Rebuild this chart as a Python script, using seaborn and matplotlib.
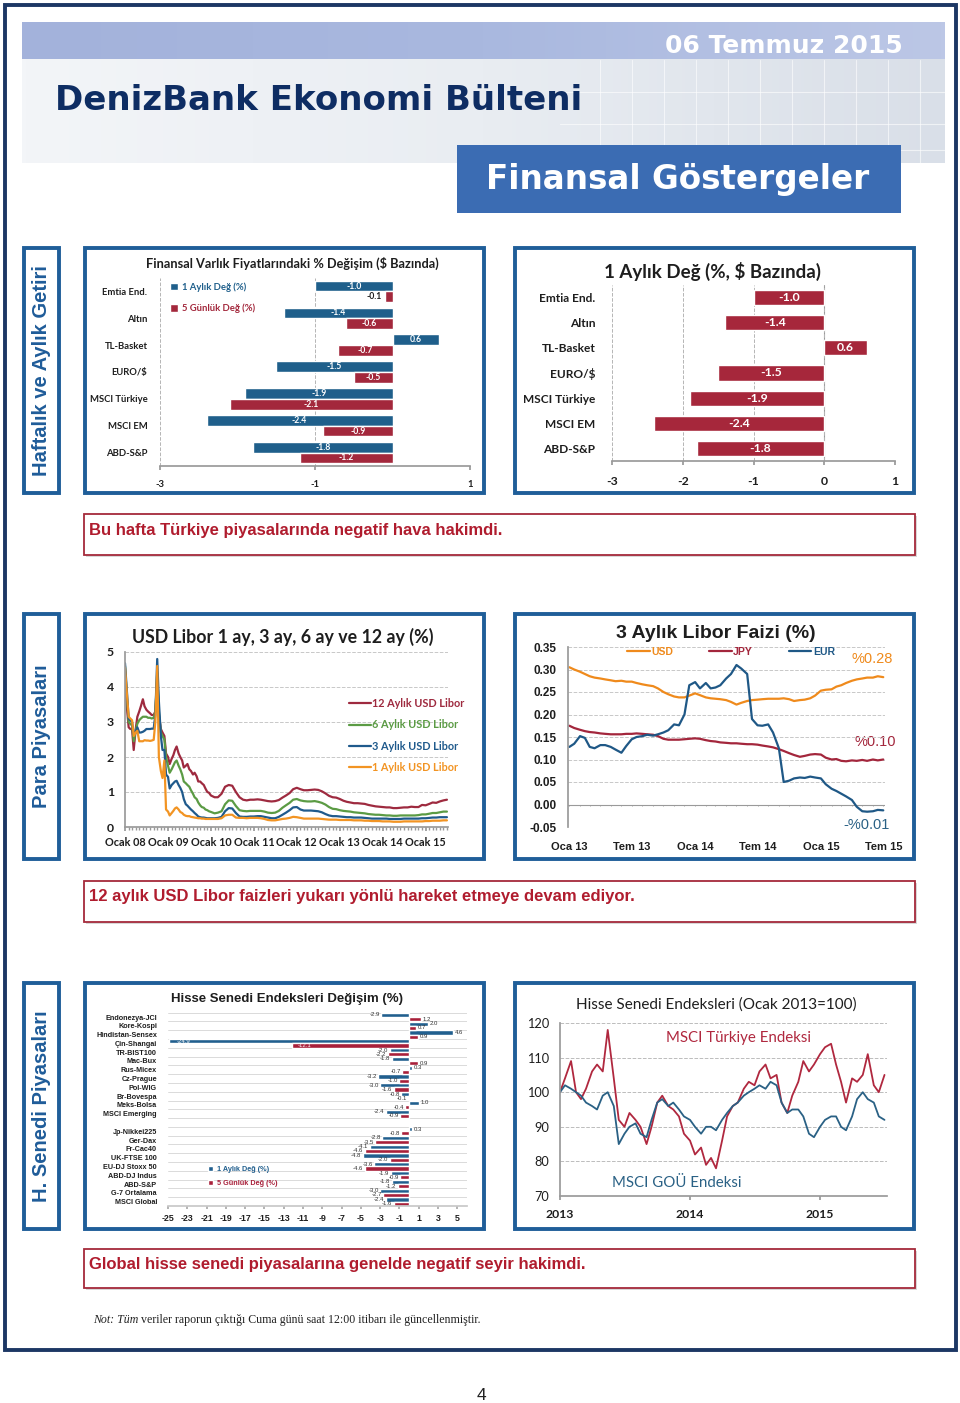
import numpy as np
import pandas as pd
import matplotlib
matplotlib.use("Agg")
import matplotlib.pyplot as plt
import matplotlib.dates as mdates
from matplotlib.patches import Rectangle
from matplotlib.colors import LinearSegmentedColormap
import seaborn as sns

# ======================= DATA =======================
# Section 1: weekly / monthly returns ($ based)
asset_cats = ["Emtia End.", "Altın", "TL-Basket", "EURO/$", "MSCI Türkiye", "MSCI EM", "ABD-S&P"]
asset_1m = [-1.0, -1.4, 0.6, -1.5, -1.9, -2.4, -1.8]
asset_5d = [-0.1, -0.6, -0.7, -0.5, -2.1, -0.9, -1.2]
asset_xticks1 = [-3, -1, 1]
asset_xticks2 = [-3, -2, -1, 0, 1]

# Section 2a: USD Libor (semi-monthly 2008-2009, monthly 2010-2015)
libor_names = ["12 Aylık USD Libor", "6 Aylık USD Libor", "3 Aylık USD Libor", "1 Aylık USD Libor"]
libor_1m = [4.55, 3.90, 3.15, 3.10, 3.05, 2.60, 2.70, 2.75, 2.45, 2.45, 2.45, 2.48, 2.47, 2.47, 2.46, 2.47,
            2.49, 3.00, 4.60, 2.00, 1.60, 1.40, 1.90, 0.50, 0.44, 0.33, 0.40, 0.46, 0.53, 0.56, 0.50, 0.43,
            0.40, 0.35, 0.32, 0.31, 0.31, 0.29, 0.28, 0.27, 0.26, 0.25, 0.25, 0.24, 0.24, 0.23, 0.23, 0.23,
            0.23, 0.23, 0.23, 0.25, 0.33, 0.35, 0.35, 0.27, 0.26, 0.26, 0.25, 0.26,
            0.26, 0.26, 0.25, 0.23, 0.20, 0.19, 0.19, 0.21, 0.23, 0.24, 0.26, 0.29,
            0.28, 0.26, 0.24, 0.24, 0.24, 0.24, 0.24, 0.23, 0.22, 0.21, 0.21, 0.21,
            0.20, 0.20, 0.20, 0.20, 0.19, 0.19, 0.19, 0.18, 0.18, 0.17, 0.17, 0.17,
            0.16, 0.16, 0.16, 0.15, 0.15, 0.15, 0.16, 0.16, 0.16, 0.16, 0.16, 0.16,
            0.17, 0.17, 0.18, 0.18, 0.18, 0.19, 0.19]
libor_3m = [4.68, 4.00, 3.10, 3.05, 3.00, 2.65, 2.70, 2.85, 2.70, 2.70, 2.72, 2.75, 2.80, 2.80, 2.80, 2.81,
            2.81, 3.20, 4.80, 3.60, 2.60, 2.20, 2.20, 1.50, 1.43, 1.10, 1.20, 1.25, 1.30, 1.32, 1.20, 1.12,
            1.00, 0.80, 0.65, 0.61, 0.55, 0.50, 0.45, 0.40, 0.35, 0.30, 0.28, 0.27, 0.27, 0.26, 0.25, 0.25,
            0.25, 0.25, 0.26, 0.29, 0.45, 0.54, 0.53, 0.40, 0.30, 0.29, 0.29, 0.30,
            0.30, 0.31, 0.31, 0.29, 0.27, 0.25, 0.25, 0.29, 0.35, 0.41, 0.48, 0.56,
            0.57, 0.50, 0.47, 0.47, 0.47, 0.46, 0.45, 0.42, 0.37, 0.33, 0.31, 0.31,
            0.30, 0.29, 0.28, 0.28, 0.27, 0.27, 0.27, 0.26, 0.25, 0.24, 0.24, 0.24,
            0.24, 0.24, 0.23, 0.23, 0.23, 0.23, 0.24, 0.24, 0.24, 0.24, 0.24, 0.25,
            0.25, 0.26, 0.27, 0.27, 0.28, 0.28, 0.28]
libor_6m = [4.60, 3.80, 3.00, 2.95, 2.90, 2.45, 2.75, 2.95, 3.05, 3.10, 3.15, 3.15, 3.15, 3.12, 3.12, 3.10,
            3.12, 3.30, 4.40, 3.30, 2.70, 2.60, 2.50, 2.00, 1.75, 1.55, 1.65, 1.75, 1.85, 1.90, 1.75, 1.65,
            1.50, 1.30, 1.25, 1.20, 1.15, 1.05, 0.95, 0.85, 0.80, 0.70, 0.62, 0.57, 0.55, 0.50, 0.48, 0.45,
            0.43, 0.39, 0.41, 0.45, 0.65, 0.76, 0.75, 0.60, 0.48, 0.46, 0.45, 0.46,
            0.46, 0.46, 0.46, 0.44, 0.41, 0.40, 0.41, 0.46, 0.55, 0.62, 0.69, 0.78,
            0.80, 0.76, 0.74, 0.73, 0.73, 0.74, 0.72, 0.69, 0.64, 0.57, 0.52, 0.51,
            0.48, 0.46, 0.45, 0.44, 0.42, 0.41, 0.40, 0.39, 0.37, 0.36, 0.35, 0.35,
            0.34, 0.33, 0.33, 0.32, 0.32, 0.33, 0.33, 0.33, 0.33, 0.33, 0.34, 0.36,
            0.36, 0.38, 0.40, 0.40, 0.42, 0.44, 0.44]
libor_12m = [4.20, 3.50, 2.85, 2.80, 2.80, 2.20, 2.80, 3.15, 3.30, 3.45, 3.65, 3.45, 3.35, 3.30, 3.25, 3.20,
             3.20, 3.30, 4.20, 3.20, 2.80, 2.70, 2.60, 2.10, 2.00, 1.80, 1.95, 2.05, 2.20, 2.30, 2.10, 2.00,
             1.90, 1.70, 1.75, 1.80, 1.65, 1.60, 1.50, 1.55, 1.45, 1.30, 1.30, 1.25, 1.20, 1.10, 1.00, 0.98,
             0.90, 0.85, 0.85, 0.95, 1.15, 1.20, 1.18, 1.00, 0.85, 0.78, 0.76, 0.78,
             0.78, 0.79, 0.78, 0.76, 0.74, 0.73, 0.74, 0.77, 0.84, 0.90, 0.97, 1.08,
             1.12, 1.08, 1.05, 1.05, 1.06, 1.07, 1.06, 1.02, 0.96, 0.89, 0.85, 0.84,
             0.80, 0.75, 0.72, 0.70, 0.68, 0.68, 0.67, 0.66, 0.63, 0.61, 0.59, 0.58,
             0.57, 0.56, 0.56, 0.54, 0.54, 0.55, 0.56, 0.56, 0.58, 0.57, 0.57, 0.63,
             0.62, 0.66, 0.70, 0.69, 0.73, 0.76, 0.78]
libor_xlabels = ["Ocak 08", "Ocak 09", "Ocak 10", "Ocak 11", "Ocak 12", "Ocak 13", "Ocak 14", "Ocak 15"]

# Section 2b: 3-month Libor by currency (semi-monthly Jan 2013 - Jul 2015)
l3_names = ["USD", "JPY", "EUR"]
l3_usd = [0.305, 0.300, 0.295, 0.290, 0.285, 0.282, 0.280, 0.278, 0.276, 0.274,
          0.275, 0.273, 0.273, 0.270, 0.267, 0.265, 0.263, 0.258, 0.250, 0.245,
          0.240, 0.238, 0.238, 0.242, 0.247, 0.243, 0.238, 0.236, 0.235, 0.234,
          0.232, 0.228, 0.222, 0.226, 0.230, 0.232, 0.233, 0.234, 0.235, 0.235,
          0.235, 0.236, 0.234, 0.230, 0.232, 0.233, 0.236, 0.242, 0.253, 0.255,
          0.256, 0.262, 0.265, 0.270, 0.275, 0.278, 0.280, 0.282, 0.282, 0.285, 0.283]
l3_jpy = [0.175, 0.170, 0.166, 0.163, 0.161, 0.160, 0.158, 0.157, 0.156, 0.156,
          0.156, 0.157, 0.157, 0.158, 0.157, 0.156, 0.155, 0.152, 0.146, 0.144,
          0.144, 0.144, 0.145, 0.146, 0.147, 0.146, 0.143, 0.141, 0.140, 0.138,
          0.137, 0.136, 0.136, 0.135, 0.134, 0.134, 0.133, 0.131, 0.129, 0.127,
          0.123, 0.119, 0.114, 0.110, 0.106, 0.108, 0.111, 0.112, 0.111, 0.104,
          0.100, 0.101, 0.097, 0.096, 0.098, 0.097, 0.099, 0.097, 0.100, 0.098, 0.100]
l3_eur = [0.128, 0.135, 0.152, 0.148, 0.128, 0.125, 0.132, 0.132, 0.128, 0.122,
          0.115, 0.130, 0.145, 0.150, 0.152, 0.155, 0.153, 0.156, 0.160, 0.165,
          0.178, 0.176, 0.200, 0.265, 0.272, 0.258, 0.270, 0.258, 0.260, 0.265,
          0.280, 0.290, 0.310, 0.302, 0.290, 0.190, 0.176, 0.175, 0.178, 0.160,
          0.125, 0.050, 0.053, 0.058, 0.060, 0.059, 0.062, 0.060, 0.058, 0.045,
          0.035, 0.030, 0.024, 0.018, 0.010, -0.005, -0.015, -0.016, -0.015, -0.012, -0.013]
l3_xlabels = ["Oca 13", "Tem 13", "Oca 14", "Tem 14", "Oca 15", "Tem 15"]
l3_yticks = [-0.05, 0.0, 0.05, 0.10, 0.15, 0.20, 0.25, 0.30, 0.35]
l3_end_labels = ["%0.28", "%0.10", "-%0.01"]

# Section 3a: equity index changes
eq_cats = ["Endonezya-JCI", "Kore-Kospi", "Hindistan-Sensex", "Çin-Shangai", "TR-BIST100", "Mac-Bux",
           "Rus-Micex", "Cz-Prague", "Pol-WIG", "Br-Bovespa", "Meks-Bolsa", "MSCI Emerging",
           "Jp-Nikkei225", "Ger-Dax", "Fr-Cac40", "UK-FTSE 100", "EU-DJ Stoxx 50", "ABD-DJ Indus",
           "ABD-S&P", "G-7 Ortalama", "MSCI Global"]
eq_1m = [-2.9, 2.0, 4.6, -24.9, -2.0, -1.8, 0.3, -3.2, -3.0, -0.8, 1.0, -2.4,
         0.3, -2.8, -4.1, -4.8, -3.6, -1.9, -1.8, -3.0, -2.4]
eq_5d = [1.2, 0.7, 0.9, -12.1, -2.2, 0.9, -0.7, -1.0, -1.6, -0.1, -0.4, -0.9,
         -0.8, -3.5, -4.6, -2.0, -4.6, -0.9, -1.2, -2.7, -1.6]
eq_xticks = list(range(-25, 6, 2))

# Section 3b: MSCI indices (Jan 2013 = 100), semi-monthly
msci_tr = [100, 104, 109, 100, 98, 101, 106, 108, 106, 118,
           104, 92, 90, 94, 92, 90, 85, 90, 97, 99,
           96, 95, 93, 88, 86, 82, 84, 79, 81, 78,
           86, 93, 96, 97, 101, 103, 102, 106, 108, 104,
           105, 97, 94, 99, 103, 109, 106, 108, 111, 113,
           114, 108, 103, 97, 104, 103, 105, 111, 102, 100, 105]
msci_em = [100, 102, 101, 100, 99, 97, 96, 95, 99, 100,
           96, 85, 88, 90, 91, 88, 87, 92, 97, 98,
           96, 97, 95, 93, 92, 90, 88, 90, 90, 89,
           92, 94, 96, 97, 99, 100, 101, 102, 101, 103,
           102, 97, 94, 95, 95, 93, 88, 87, 90, 92,
           93, 93, 90, 89, 93, 98, 100, 98, 97, 93, 92]
msci_names = ["MSCI Türkiye Endeksi", "MSCI GOÜ Endeksi"]

# ======================= STYLE =======================
sns.set_theme(style="white")
ARIAL = ["Liberation Sans", "DejaVu Sans"]
CAL = ["Lato", "DejaVu Sans"]
SERIF = ["Liberation Serif", "DejaVu Serif"]
plt.rcParams["font.family"] = ARIAL
plt.rcParams["axes.unicode_minus"] = False

BLUE = "#1f5f8b"
RED = "#a3283c"
NAVY_BOX = "#1f5e99"
TXT = "#1e1e1e"

W, H = 960, 1403
fig = plt.figure(figsize=(W / 100, H / 100), dpi=100)
fig.patch.set_facecolor("white")
bg = fig.add_axes([0, 0, 1, 1])
bg.set_xlim(0, W)
bg.set_ylim(H, 0)
bg.axis("off")


def box(x0, y0, x1, y1, ec="none", lw=0, fc="white", z=1):
    bg.add_patch(Rectangle((x0, y0), x1 - x0, y1 - y0, fc=fc, ec=ec, lw=lw, zorder=z))


def axes_px(l, t, r, b):
    ax = fig.add_axes([l / W, 1 - b / H, (r - l) / W, (b - t) / H])
    ax.set_facecolor("none")
    return ax


# ---------- page frame & header ----------
box(5, 5, 956, 1350, ec="#1c3764", lw=2.8, fc="none", z=5)
grad = np.linspace(0, 1, 256).reshape(1, -1)
bg.imshow(grad, extent=(22, 945, 163, 22), aspect="auto", zorder=0,
          cmap=LinearSegmentedColormap.from_list("h", ["#f3f5f8", "#e9edf2", "#d9dfe8"]))
bg.imshow(grad, extent=(22, 945, 59, 22), aspect="auto", zorder=0.5,
          cmap=LinearSegmentedColormap.from_list("s", ["#a3b2db", "#a9b8df", "#bcc7e6"]))
for gx in range(600, 945, 32):
    bg.plot([gx, gx], [60, 163], color="white", lw=0.8, alpha=0.6, zorder=0.6)
for gy in [92, 124, 150]:
    bg.plot([560, 945], [gy, gy], color="white", lw=0.8, alpha=0.6, zorder=0.6)
bg.set_xlim(0, W)
bg.set_ylim(H, 0)
bg.text(903, 46, "06 Temmuz 2015", ha="right", va="center", color="white", fontsize=18,
        fontweight="bold", family=["DejaVu Sans"], zorder=3)
bg.text(55, 101, "DenizBank Ekonomi Bülteni", ha="left", va="center", color="#0e2d63", fontsize=24.5,
        fontweight="bold", family=["DejaVu Sans"], zorder=3)
box(457, 145, 901, 213, fc="#3b6cb3", z=2)
bg.text(678, 180, "Finansal Göstergeler", ha="center", va="center", color="white", fontsize=23.5,
        fontweight="bold", family=["DejaVu Sans"], zorder=3)

# ---------- section frames ----------
sections = [(246, 495, "Haftalık ve Aylık Getiri"), (612, 861, "Para Piyasaları"), (981, 1231, "H. Senedi Piyasaları")]
for (t, b, lab) in sections:
    box(24, t + 2, 59, b - 2, ec=NAVY_BOX, lw=2.8)
    box(85, t + 2, 484, b - 2, ec=NAVY_BOX, lw=2.8)
    box(515, t + 2, 914, b - 2, ec=NAVY_BOX, lw=2.8)
    bg.text(41.5, (t + b) / 2, lab, rotation=90, ha="center", va="center", fontsize=14.5,
            fontweight="bold", color="#1f5c99", family=ARIAL, zorder=3)

comments = [(514, 555, "Bu hafta Türkiye piyasalarında negatif hava hakimdi."),
            (881, 922, "12 aylık USD Libor faizleri yukarı yönlü hareket etmeye devam ediyor."),
            (1249, 1288, "Global hisse senedi piyasalarına genelde negatif seyir hakimdi.")]
for (t, b, txt) in comments:
    box(86, t + 2, 917, b + 2, fc="#d8d8d8", z=1)
    box(84, t, 915, b, ec="#a52a3a", lw=1.3, z=1.1)
    bg.text(89, t + 16, txt, ha="left", va="center", fontsize=12, fontweight="bold",
            color="#b01c2e", family=ARIAL, zorder=3)


def style_ax(ax, left=True):
    for s in ["top", "right"]:
        ax.spines[s].set_visible(False)
    ax.spines["left"].set_visible(left)
    ax.spines["left"].set_color("#9a9a9a")
    ax.spines["bottom"].set_color("#9a9a9a")
    ax.set_xlabel("")
    ax.set_ylabel("")


# ======================= CHART 1 =======================
ax1 = axes_px(160, 278, 470, 466)
lab1m, lab5d = "1 Aylık Değ (%)", "5 Günlük Değ (%)"
df1 = pd.DataFrame({"Varlık": asset_cats * 2,
                    "Seri": [lab1m] * len(asset_cats) + [lab5d] * len(asset_cats),
                    "Değişim": asset_1m + asset_5d})
sns.barplot(data=df1, y="Varlık", x="Değişim", hue="Seri", order=asset_cats, hue_order=[lab1m, lab5d],
            palette=[BLUE, RED], orient="h", errorbar=None, saturation=1, width=0.8, ax=ax1)
ax1.set_xlim(-3, 1)
ax1.set_ylim(len(asset_cats) - 0.5, -0.5)
ax1.set_xticks(asset_xticks1, [str(v) for v in asset_xticks1], fontsize=6.8, fontweight="bold", fontfamily=CAL)
ax1.set_yticks(range(len(asset_cats)), asset_cats, fontsize=6.8, fontweight="bold", fontfamily=CAL)
ax1.tick_params(axis="y", length=0, pad=9, colors=TXT)
ax1.tick_params(axis="x", bottom=True, length=3, color="#999", pad=7, labelcolor=TXT)
ax1.grid(axis="x", ls="--", color="#b5b5b5", lw=0.7)
style_ax(ax1, left=False)
for cont, vals in zip(ax1.containers, [asset_1m, asset_5d]):
    for p, v in zip(cont.patches, vals):
        yc = p.get_y() + p.get_height() / 2
        x0, x1 = sorted([p.get_x(), p.get_x() + p.get_width()])
        if abs(v) < 0.3:
            ax1.text(x0 - 0.04, yc, f"{v:.1f}", ha="right", va="center", fontsize=6.2, color=TXT,
                     fontweight="bold", family=CAL)
        else:
            ax1.text((x0 + x1) / 2, yc, f"{v:.1f}", ha="center", va="center", fontsize=6.2, color="white",
                     fontweight="bold", family=CAL)
leg1 = ax1.legend(loc="upper left", bbox_to_anchor=(170 / W, 1 - 282 / H), bbox_transform=fig.transFigure,
                  frameon=False, prop={"family": CAL, "weight": "bold", "size": 6.8}, handlelength=0.8,
                  handleheight=0.8, labelspacing=1.3, handletextpad=0.5, borderpad=0, borderaxespad=0)
for t, c in zip(leg1.get_texts(), [BLUE, RED]):
    t.set_color(c)
bg.text(292, 263, "Finansal Varlık Fiyatlarındaki % Değişim ($ Bazında)", ha="center", va="center",
        fontsize=9.2, fontweight="bold", family=CAL, color=TXT, zorder=3)

# ======================= CHART 2 =======================
ax2 = axes_px(612, 285, 895, 461)
df2 = pd.DataFrame({"Varlık": asset_cats, "Değişim": asset_1m})
sns.barplot(data=df2, y="Varlık", x="Değişim", order=asset_cats, color="#a6273b", orient="h",
            errorbar=None, saturation=1, width=0.6, ax=ax2)
ax2.set_xlim(-3, 1)
ax2.set_ylim(len(asset_cats) - 0.5, -0.5)
ax2.set_xticks(asset_xticks2, [str(v) for v in asset_xticks2], fontsize=8.8, fontweight="bold", fontfamily=CAL)
ax2.set_yticks(range(len(asset_cats)), asset_cats, fontsize=8.6, fontweight="bold", fontfamily=CAL)
ax2.tick_params(axis="y", length=0, pad=12, colors=TXT)
ax2.tick_params(axis="x", bottom=True, length=3, color="#999", pad=8, labelcolor=TXT)
ax2.grid(axis="x", ls="--", color="#b5b5b5", lw=0.7)
ax2.axvline(0, color="#9a9a9a", lw=0.8, zorder=0.5)
style_ax(ax2, left=False)
for p, v in zip(ax2.containers[0].patches, asset_1m):
    x0, x1 = sorted([p.get_x(), p.get_x() + p.get_width()])
    ax2.text((x0 + x1) / 2, p.get_y() + p.get_height() / 2, f"{v:.1f}", ha="center", va="center",
             fontsize=8.8, color="white", fontweight="bold", family=CAL)
bg.text(713, 271, "1 Aylık Değ (%, $ Bazında)", ha="center", va="center", fontsize=13.5,
        fontweight="bold", family=CAL, color=TXT, zorder=3)

# ======================= CHART 3 =======================
libor_dates = list(pd.date_range("2008-01-01", "2009-12-15", freq="SMS")) + \
    list(pd.date_range("2010-01-01", "2015-07-01", freq="MS"))
ax3 = axes_px(125, 652, 448, 827)
df3 = pd.DataFrame({"Tarih": libor_dates * 4,
                    "Seri": sum([[n] * len(libor_dates) for n in libor_names], []),
                    "Faiz": libor_12m + libor_6m + libor_3m + libor_1m})
libor_cols = ["#9e2a3f", "#5b9b44", "#1f5a8c", "#f29423"]
sns.lineplot(data=df3, x="Tarih", y="Faiz", hue="Seri", hue_order=libor_names, palette=libor_cols,
             linewidth=1.6, errorbar=None, ax=ax3)
ax3.set_xlim(mdates.date2num(pd.Timestamp("2008-01-01")), mdates.date2num(pd.Timestamp("2015-07-10")))
ax3.set_ylim(0, 5)
ax3.set_xticks([mdates.date2num(pd.Timestamp(f"{y}-01-01")) for y in range(2008, 2016)], libor_xlabels,
               fontsize=7.8, fontweight="bold", fontfamily=CAL)
ax3.set_yticks(range(0, 6), [str(v) for v in range(0, 6)], fontsize=8.8, fontweight="bold", fontfamily=CAL)
ax3.xaxis.set_minor_locator(mdates.MonthLocator())
ax3.tick_params(axis="x", which="both", bottom=True, color="#999", labelcolor=TXT)
ax3.tick_params(axis="x", which="major", length=3, pad=4)
ax3.tick_params(axis="x", which="minor", length=2)
ax3.tick_params(axis="y", length=0, pad=8, labelcolor=TXT)
ax3.grid(axis="y", ls="--", color="#c8c8c8", lw=0.7)
style_ax(ax3)
h3, l3 = ax3.get_legend_handles_labels()
leg3 = ax3.legend(h3, l3, loc="upper left", bbox_to_anchor=(349 / W, 1 - 698 / H), bbox_transform=fig.transFigure,
                  frameon=False, prop={"family": CAL, "weight": "bold", "size": 7.8}, handlelength=2.0,
                  handletextpad=0.1, labelspacing=0.95, borderpad=0, borderaxespad=0)
for t, c in zip(leg3.get_texts(), libor_cols):
    t.set_color(c)
bg.text(283, 637, "USD Libor 1 ay, 3 ay, 6 ay ve 12 ay (%)", ha="center", va="center", fontsize=12.8,
        fontweight="bold", family=CAL, color=TXT, zorder=3)

# ======================= CHART 4 =======================
l3_dates = list(pd.date_range("2013-01-01", "2015-07-01", freq="SMS"))
ax4 = axes_px(568, 647, 885, 827)
df4 = pd.DataFrame({"Tarih": l3_dates * 3,
                    "Seri": sum([[n] * len(l3_dates) for n in l3_names], []),
                    "Faiz": l3_usd + l3_jpy + l3_eur})
l3_cols = ["#ef8a1c", "#a3263c", "#1f5886"]
sns.lineplot(data=df4, x="Tarih", y="Faiz", hue="Seri", hue_order=l3_names, palette=l3_cols,
             linewidth=1.6, errorbar=None, ax=ax4)
ax4.set_xlim(mdates.date2num(pd.Timestamp("2012-12-28")), mdates.date2num(pd.Timestamp("2015-07-06")))
ax4.set_ylim(-0.05, 0.35)
tick_dates = [pd.Timestamp(s) for s in ["2013-01-01", "2013-07-01", "2014-01-01", "2014-07-01", "2015-01-01", "2015-07-01"]]
ax4.set_xticks([mdates.date2num(d) for d in tick_dates], l3_xlabels, fontsize=8, fontweight="bold", fontfamily=ARIAL)
ax4.set_yticks(l3_yticks, [f"{v:.2f}" for v in l3_yticks], fontsize=8.5, fontweight="bold", fontfamily=ARIAL)
ax4.tick_params(axis="x", length=0, pad=11, labelcolor=TXT)
ax4.tick_params(axis="y", length=0, pad=8, labelcolor=TXT)
ax4.grid(axis="y", ls="--", color="#c8c8c8", lw=0.7)
style_ax(ax4)
ax4.spines["bottom"].set_visible(False)
ax4.axhline(0, color="#9a9a9a", lw=0.8, zorder=1)
month_marks = mdates.date2num(pd.date_range("2013-01-01", "2015-07-01", freq="MS"))
ax4.vlines(month_marks, -0.004, 0, color="#9a9a9a", lw=0.6)
h4, lb4 = ax4.get_legend_handles_labels()
leg4 = ax4.legend(h4, lb4, loc="upper left", ncol=3, bbox_to_anchor=(627 / W, 1 - 647 / H),
                  bbox_transform=fig.transFigure, frameon=False,
                  prop={"family": ARIAL, "weight": "bold", "size": 7.5}, handlelength=2.2,
                  handletextpad=0.15, columnspacing=3.4, borderpad=0, borderaxespad=0)
for t, c in zip(leg4.get_texts(), l3_cols):
    t.set_color(c)
bg.text(716, 634, "3 Aylık Libor Faizi (%)", ha="center", va="center", fontsize=14, fontweight="bold",
        family=ARIAL, color=TXT, zorder=3)
bg.text(872, 659, l3_end_labels[0], ha="center", va="center", fontsize=10.5, color="#ef8a1c", family=ARIAL, zorder=3)
bg.text(875, 742, l3_end_labels[1], ha="center", va="center", fontsize=10.5, color="#a3263c", family=ARIAL, zorder=3)
bg.text(867, 825, l3_end_labels[2], ha="center", va="center", fontsize=10.5, color="#2a6185", family=ARIAL, zorder=3)

# ======================= CHART 5 =======================
ax5 = axes_px(168, 1010, 467, 1206)
eq_order = eq_cats[:12] + [" "] + eq_cats[12:]
df5 = pd.DataFrame({"Endeks": eq_cats * 2,
                    "Seri": [lab1m] * len(eq_cats) + [lab5d] * len(eq_cats),
                    "Değişim": eq_1m + eq_5d})
sns.barplot(data=df5, y="Endeks", x="Değişim", hue="Seri", order=eq_order, hue_order=[lab1m, lab5d],
            palette=["#215f8e", "#a8203a"], orient="h", errorbar=None, saturation=1, width=0.95, ax=ax5)
ax5.set_xlim(-25, 6)
ax5.set_ylim(len(eq_order) - 0.55, -0.8)
ax5.set_xticks(eq_xticks, [str(v) for v in eq_xticks], fontsize=6.3, fontweight="bold", fontfamily=ARIAL)
ax5.set_yticks(range(len(eq_order)), eq_order, fontsize=5.2, fontweight="bold", fontfamily=ARIAL)
ax5.set_yticks(np.arange(-0.5, len(eq_order), 1), minor=True)
ax5.tick_params(axis="y", which="both", length=0, pad=8, labelcolor=TXT)
ax5.tick_params(axis="x", bottom=True, length=2, color="#aaa", pad=4, labelcolor=TXT)
ax5.grid(axis="y", which="minor", color="#d4d4d4", lw=0.6)
ax5.grid(axis="y", which="major", visible=False)
style_ax(ax5, left=False)
ax5.spines["bottom"].set_color("#c8c8c8")
for cont in ax5.containers:
    for p in cont.patches:
        w = p.get_width()
        yc = p.get_y() + p.get_height() / 2
        lo, hi = sorted([p.get_x(), p.get_x() + w])
        if lo < -20:
            ax5.text(lo + 0.8, yc, f"{w:.1f}", ha="left", va="center", fontsize=4.3, color="white", family=ARIAL)
        elif lo < -10:
            ax5.text(lo + 0.6, yc, f"{w:.1f}", ha="left", va="center", fontsize=4.3, color="white", family=ARIAL)
        elif w < 0:
            ax5.text(lo - 0.15, yc, f"{w:.1f}", ha="right", va="center", fontsize=4.3, color="#333", family=ARIAL)
        else:
            ax5.text(hi + 0.15, yc, f"{w:.1f}", ha="left", va="center", fontsize=4.3, color="#333", family=ARIAL)
leg5 = ax5.legend(loc="upper left", bbox_to_anchor=(208 / W, 1 - 1166 / H), bbox_transform=fig.transFigure,
                  frameon=False, prop={"family": ARIAL, "weight": "bold", "size": 5.2}, handlelength=0.7,
                  handleheight=0.7, labelspacing=1.0, handletextpad=0.5, borderpad=0, borderaxespad=0)
for t, c in zip(leg5.get_texts(), ["#215f8e", "#a8203a"]):
    t.set_color(c)
bg.text(287, 999, "Hisse Senedi Endeksleri Değişim (%)", ha="center", va="center", fontsize=9.5,
        fontweight="bold", family=ARIAL, color=TXT, zorder=3)

# ======================= CHART 6 =======================
msci_dates = list(pd.date_range("2013-01-01", "2015-07-01", freq="SMS"))
ax6 = axes_px(560, 1023, 887, 1196)
df6 = pd.DataFrame({"Tarih": msci_dates * 2,
                    "Seri": [msci_names[0]] * len(msci_dates) + [msci_names[1]] * len(msci_dates),
                    "Endeks": msci_tr + msci_em})
msci_cols = ["#b0283f", "#2a6185"]
sns.lineplot(data=df6, x="Tarih", y="Endeks", hue="Seri", hue_order=msci_names, palette=msci_cols,
             linewidth=1.3, errorbar=None, legend=False, ax=ax6)
ax6.set_xlim(mdates.date2num(pd.Timestamp("2013-01-01")), mdates.date2num(pd.Timestamp("2015-07-08")))
ax6.set_ylim(70, 120)
ax6.set_xticks([mdates.date2num(pd.Timestamp(f"{y}-01-01")) for y in (2013, 2014, 2015)], ["2013", "2014", "2015"],
               fontsize=8.8, fontweight="bold", fontfamily=CAL)
ax6.set_yticks(range(70, 121, 10), [str(v) for v in range(70, 121, 10)], fontsize=9.2, fontfamily=CAL)
ax6.tick_params(axis="x", bottom=True, length=3, color="#999", pad=6, labelcolor=TXT)
ax6.tick_params(axis="y", length=0, pad=8, labelcolor=TXT)
ax6.grid(axis="y", ls="--", color="#bcbcbc", lw=0.7)
style_ax(ax6)
bg.text(738, 1038, msci_names[0], ha="center", va="center", fontsize=10.8, color=msci_cols[0], family=CAL, zorder=3)
bg.text(677, 1183, msci_names[1], ha="center", va="center", fontsize=10.8, color=msci_cols[1], family=CAL, zorder=3)
bg.text(716, 1005, "Hisse Senedi Endeksleri (Ocak 2013=100)", ha="center", va="center", fontsize=11,
        family=CAL, color=TXT, zorder=3)

# ---------- footer ----------
t_it = bg.text(93, 1320, "Not: Tüm", ha="left", va="center", fontsize=8.6, style="italic", family=SERIF,
               color="#222", zorder=3)
fig.canvas.draw()
bb = t_it.get_window_extent()
x_end = bg.transData.inverted().transform((bb.x1, bb.y0))[0]
bg.text(x_end + 3, 1320, "veriler raporun çıktığı Cuma günü saat 12:00 itibarı ile güncellenmiştir.",
        ha="left", va="center", fontsize=8.6, family=SERIF, color="#222", zorder=3)
bg.text(481, 1395, "4", ha="center", va="center", fontsize=12.5, family=ARIAL, color="#222", zorder=3)

fig.savefig("out.png", dpi=100)
